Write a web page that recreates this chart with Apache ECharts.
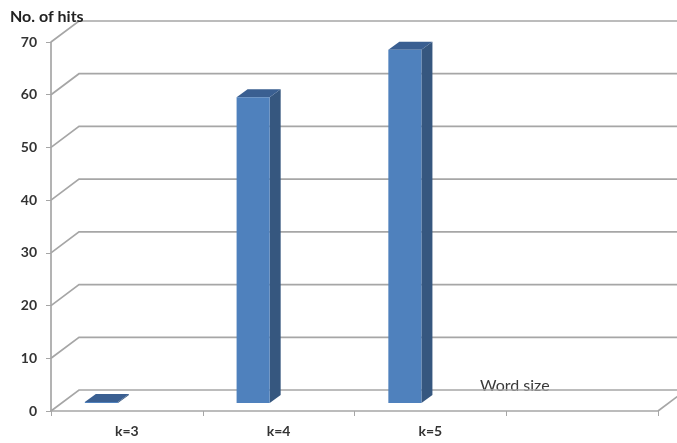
<!DOCTYPE html>
<html>
<head>
<meta charset="utf-8">
<script src="https://cdn.jsdelivr.net/npm/echarts@6/dist/echarts.min.js"></script>
<style>html,body{margin:0;padding:0;background:#fff}#c{width:677px;height:443px}</style>
</head>
<body>
<div id="c"></div>
<script>
const categories = ['k=3', 'k=4', 'k=5', ''];
const hits = [0.2, 58, 67];
const yTicks = [0, 10, 20, 30, 40, 50, 60, 70];
const yTitle = 'No. of hits';
const xTitle = 'Word size';

const GRID = '#a6a6a6';
const FONT = 'Lato, "Open Sans", sans-serif';
const DEPTH_X = 28, DEPTH_Y = 21;

const chart = echarts.init(document.getElementById('c'), null, {renderer: 'canvas'});

function wallItem(params, api) {
  const cs = params.coordSys;
  const v = api.value(1);
  const y = api.coord([0, v])[1];
  const x0 = cs.x, x1 = cs.x + cs.width;
  const style = {stroke: GRID, lineWidth: 1.7, fill: null};
  const children = [{
    type: 'polyline',
    shape: {points: [[x0, y], [x0 + DEPTH_X, y - DEPTH_Y], [x1 + DEPTH_X + 10, y - DEPTH_Y]]},
    style: style
  }];
  if (v === yTicks[0]) {
    children.push({
      type: 'line',
      shape: {x1: x1, y1: y, x2: x1 + DEPTH_X, y2: y - DEPTH_Y},
      style: style
    });
  }
  return {type: 'group', children: children};
}

function barItem(params, api) {
  const ci = api.value(0), v = api.value(1);
  const base = api.coord([ci, 0]);
  const top = api.coord([ci, v]);
  const bw = api.size([1, 0])[0];
  const x1 = base[0] - 0.277 * bw;
  const x2 = x1 + 0.218 * bw;
  const lift = 8, dx = 11, dy = 8;
  const yb = base[1] - lift, yt = Math.min(top[1] - lift, yb - 0.5);
  return {
    type: 'group',
    children: [
      {type: 'polygon', shape: {points: [[x2, yb], [x2, yt], [x2 + dx, yt - dy], [x2 + dx, yb - dy]]},
       style: {fill: '#36577f'}},
      {type: 'polygon', shape: {points: [[x1, yt], [x2, yt], [x2 + dx, yt - dy], [x1 + dx, yt - dy]]},
       style: {fill: '#3a5f91'}},
      {type: 'rect', shape: {x: x1, y: yt, width: x2 - x1, height: yb - yt},
       style: {fill: '#4f81bd'}}
    ]
  };
}

chart.setOption({
  animation: false,
  title: {
    text: yTitle, left: 5, top: 4,
    textStyle: {fontFamily: FONT, fontWeight: 'bold', fontSize: 16, color: '#222'}
  },
  grid: {left: 51, right: 19, top: 42, bottom: 32, containLabel: false},
  xAxis: {
    type: 'category', data: categories, boundaryGap: true,
    axisLine: {show: true, lineStyle: {color: GRID, width: 1.7}},
    axisTick: {show: true, length: 5, lineStyle: {color: GRID, width: 1}},
    axisLabel: {margin: 13, fontFamily: FONT, fontSize: 14, fontWeight: 'bold', color: '#333'},
    splitLine: {show: false}
  },
  yAxis: {
    type: 'value', min: 0, max: 70, interval: 10,
    axisLine: {show: true, lineStyle: {color: GRID, width: 1.7}},
    axisTick: {show: true, length: 5, lineStyle: {color: GRID, width: 1}},
    axisLabel: {margin: 14, fontFamily: FONT, fontSize: 14, fontWeight: 'bold', color: '#333'},
    splitLine: {show: false}
  },
  graphic: [{
    type: 'text', left: 480, top: 378,
    style: {text: xTitle, fontFamily: FONT, fontSize: 16, fill: '#3a3a3a'}
  }],
  series: [
    {
      type: 'custom', name: 'walls', clip: false, z: 1, silent: true,
      renderItem: wallItem,
      data: yTicks.map(v => [0, v])
    },
    {
      type: 'custom', name: 'hits', clip: false, z: 3,
      renderItem: barItem,
      data: hits.map((v, i) => [i, v])
    }
  ]
});
</script>
</body>
</html>
